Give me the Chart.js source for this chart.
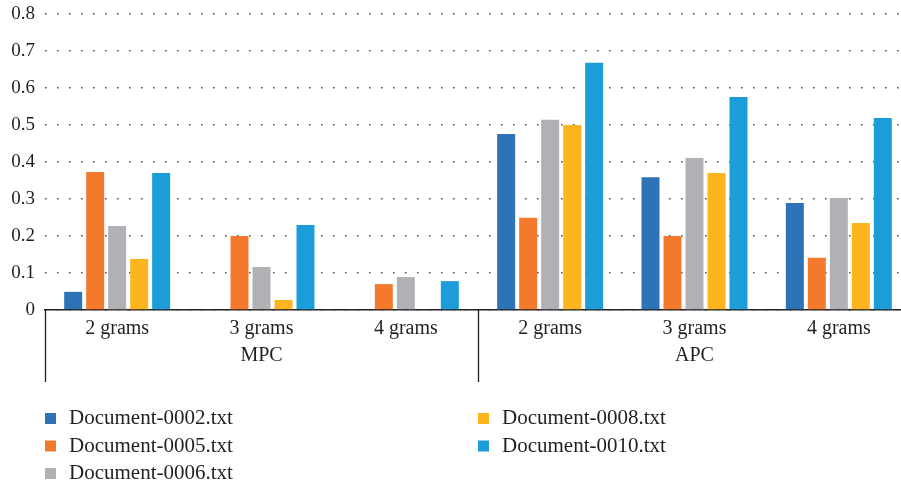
<!DOCTYPE html>
<html>
<head>
<meta charset="utf-8">
<script src="https://cdn.jsdelivr.net/npm/chart.js@4/dist/chart.umd.min.js"></script>
<style>
  html, body { margin: 0; padding: 0; background: #fff; overflow: hidden; }
  #wrap { width: 901px; height: 487px; overflow: hidden; position: relative; }
  #c { display: block; }
</style>
</head>
<body>
<div id="wrap"><canvas id="c" width="920" height="487"></canvas></div>
<script>
// Categories along the x axis and their outer groups
const categories = ['2 grams', '3 grams', '4 grams', '2 grams', '3 grams', '4 grams'];
const groups = ['MPC', 'APC'];
const groupSize = 3;

// Series names
const seriesNames = ['Document-0002.txt', 'Document-0005.txt', 'Document-0006.txt', 'Document-0008.txt', 'Document-0010.txt'];

// Series values, one per category
const doc0002 = [0.049, 0, 0, 0.476, 0.359, 0.289];
const doc0005 = [0.373, 0.200, 0.070, 0.249, 0.200, 0.141];
const doc0006 = [0.227, 0.116, 0.089, 0.514, 0.411, 0.303];
const doc0008 = [0.138, 0.027, 0, 0.500, 0.370, 0.235];
const doc0010 = [0.370, 0.230, 0.078, 0.668, 0.576, 0.519];

// Value axis
const yMin = 0;
const yMax = 0.8;
const yStep = 0.1;

const seriesValues = [doc0002, doc0005, doc0006, doc0008, doc0010];
const seriesColors = ['#2E72B8', '#F37A2C', '#B0B1B4', '#FCB51E', '#1A9DD8'];

const textColor = '#231F20';
const serif = "'Liberation Serif', 'Times New Roman', serif";

// Draws the outer group row, its separators, and the two-column legend
const groupAxisPlugin = {
  id: 'groupAxis',
  afterDraw(chart) {
    const ctx = chart.ctx;
    const xs = chart.scales.x;
    const half = (xs.getPixelForValue(1) - xs.getPixelForValue(0)) / 2;
    const bottom = 382;
    ctx.save();
    ctx.strokeStyle = textColor;
    ctx.lineWidth = 1.3;
    const bounds = [];
    for (let g = 0; g <= groups.length; g++) {
      const idx = g * groupSize;
      const px = idx < categories.length ? xs.getPixelForValue(idx) - half
                                         : xs.getPixelForValue(categories.length - 1) + half;
      bounds.push(px);
      ctx.beginPath();
      ctx.moveTo(Math.round(px) + 0.5, xs.top);
      ctx.lineTo(Math.round(px) + 0.5, bottom);
      ctx.stroke();
    }
    ctx.fillStyle = textColor;
    ctx.font = '20px ' + serif;
    ctx.textAlign = 'center';
    ctx.textBaseline = 'middle';
    groups.forEach((name, g) => {
      ctx.fillText(name, (bounds[g] + bounds[g + 1]) / 2, 356);
    });

    // Legend: three rows per column
    ctx.textAlign = 'left';
    ctx.font = '21px ' + serif;
    const colX = [45, 478];
    const rowY = [418.5, 446, 473.5];
    chart.data.datasets.forEach((ds, i) => {
      const col = Math.floor(i / 3);
      const row = i % 3;
      const x = colX[col];
      const y = rowY[row];
      ctx.fillStyle = ds.backgroundColor;
      ctx.fillRect(x, y - 5.5, 11, 11);
      ctx.fillStyle = textColor;
      ctx.fillText(ds.label, x + 24, y);
    });
    ctx.restore();
  }
};

new Chart(document.getElementById('c'), {
  type: 'bar',
  data: {
    labels: categories,
    datasets: seriesNames.map((name, i) => ({
      label: name,
      data: seriesValues[i],
      backgroundColor: seriesColors[i],
      borderWidth: 0,
      categoryPercentage: 0.762,
      barPercentage: 0.818
    }))
  },
  options: {
    responsive: false,
    animation: false,
    layout: { padding: { top: 14, right: 9, bottom: 0, left: 0 } },
    plugins: {
      legend: { display: false },
      tooltip: { enabled: false }
    },
    scales: {
      x: {
        grid: { display: false, drawTicks: false },
        border: { display: true, color: textColor, width: 1.5 },
        ticks: {
          color: textColor,
          font: { family: serif, size: 20 },
          padding: 7,
          maxRotation: 0,
          autoSkip: false
        },
        afterFit(scale) { scale.height = 177; }
      },
      y: {
        min: yMin,
        max: yMax,
        grid: { color: '#555555', lineWidth: 1.6, drawTicks: false },
        border: { display: false, dash: [1.6, 10.4] },
        ticks: {
          stepSize: yStep,
          color: textColor,
          font: { family: serif, size: 19 },
          padding: 10
        },
        afterFit(scale) {
          scale.width = 45;
          scale.paddingTop = 4;
          scale.paddingBottom = 4;
        }
      }
    }
  },
  plugins: [groupAxisPlugin]
});
</script>
</body>
</html>
